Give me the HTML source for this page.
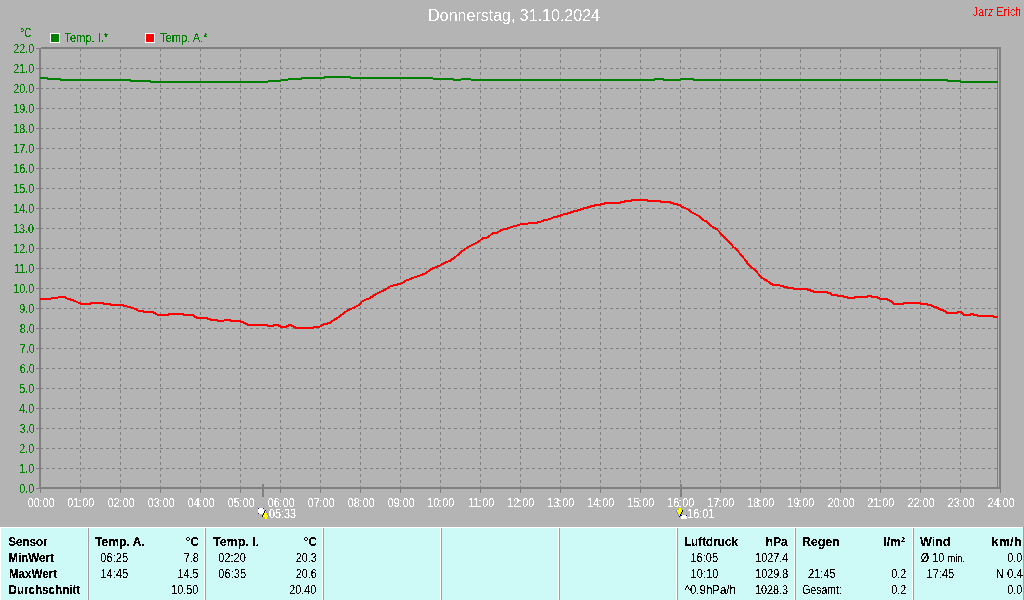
<!DOCTYPE html>
<html><head><meta charset="utf-8"><title>Donnerstag, 31.10.2024</title>
<style>
html,body{margin:0;padding:0;background:#b4b4b4;}
body{width:1024px;height:600px;overflow:hidden;font-family:"Liberation Sans",sans-serif;}
svg{display:block;position:absolute;left:0;top:0;will-change:transform}
text{font-family:"Liberation Sans",sans-serif;font-size:12px;}
.b{font-weight:bold}
.g{fill:#008000}.w{fill:#fff}.r{fill:#ff0000}.k{fill:#000}
</style></head><body>
<svg width="1024" height="600" viewBox="0 0 1024 600">
<defs><filter id="cr" x="0" y="0" width="1024" height="600" filterUnits="userSpaceOnUse" color-interpolation-filters="sRGB"><feComponentTransfer><feFuncA type="discrete" tableValues="0 0 1 1 1"/></feComponentTransfer></filter><filter id="crb" x="0" y="0" width="1024" height="600" filterUnits="userSpaceOnUse" color-interpolation-filters="sRGB"><feComponentTransfer><feFuncA type="discrete" tableValues="0 0 0 1 1 1 1 1"/></feComponentTransfer></filter><filter id="crt" x="0" y="0" width="1024" height="40" filterUnits="userSpaceOnUse" color-interpolation-filters="sRGB"><feComponentTransfer><feFuncA type="discrete" tableValues="0 1"/></feComponentTransfer></filter></defs>
<rect x="0" y="0" width="1024" height="600" fill="#b4b4b4"/>
<g shape-rendering="crispEdges" stroke="#808080" stroke-width="1" fill="none">
<line x1="40" y1="68.5" x2="999" y2="68.5" stroke-dasharray="3 3"/>
<line x1="40" y1="88.5" x2="999" y2="88.5" stroke-dasharray="3 3"/>
<line x1="40" y1="108.5" x2="999" y2="108.5" stroke-dasharray="3 3"/>
<line x1="40" y1="128.5" x2="999" y2="128.5" stroke-dasharray="3 3"/>
<line x1="40" y1="148.5" x2="999" y2="148.5" stroke-dasharray="3 3"/>
<line x1="40" y1="168.5" x2="999" y2="168.5" stroke-dasharray="3 3"/>
<line x1="40" y1="188.5" x2="999" y2="188.5" stroke-dasharray="3 3"/>
<line x1="40" y1="208.5" x2="999" y2="208.5" stroke-dasharray="3 3"/>
<line x1="40" y1="228.5" x2="999" y2="228.5" stroke-dasharray="3 3"/>
<line x1="40" y1="248.5" x2="999" y2="248.5" stroke-dasharray="3 3"/>
<line x1="40" y1="268.5" x2="999" y2="268.5" stroke-dasharray="3 3"/>
<line x1="40" y1="288.5" x2="999" y2="288.5" stroke-dasharray="3 3"/>
<line x1="40" y1="308.5" x2="999" y2="308.5" stroke-dasharray="3 3"/>
<line x1="40" y1="328.5" x2="999" y2="328.5" stroke-dasharray="3 3"/>
<line x1="40" y1="348.5" x2="999" y2="348.5" stroke-dasharray="3 3"/>
<line x1="40" y1="368.5" x2="999" y2="368.5" stroke-dasharray="3 3"/>
<line x1="40" y1="388.5" x2="999" y2="388.5" stroke-dasharray="3 3"/>
<line x1="40" y1="408.5" x2="999" y2="408.5" stroke-dasharray="3 3"/>
<line x1="40" y1="428.5" x2="999" y2="428.5" stroke-dasharray="3 3"/>
<line x1="40" y1="448.5" x2="999" y2="448.5" stroke-dasharray="3 3"/>
<line x1="40" y1="468.5" x2="999" y2="468.5" stroke-dasharray="3 3"/>
<line x1="80.5" y1="48" x2="80.5" y2="487" stroke-dasharray="3 3"/>
<line x1="120.5" y1="48" x2="120.5" y2="487" stroke-dasharray="3 3"/>
<line x1="160.5" y1="48" x2="160.5" y2="487" stroke-dasharray="3 3"/>
<line x1="200.5" y1="48" x2="200.5" y2="487" stroke-dasharray="3 3"/>
<line x1="240.5" y1="48" x2="240.5" y2="487" stroke-dasharray="3 3"/>
<line x1="280.5" y1="48" x2="280.5" y2="487" stroke-dasharray="3 3"/>
<line x1="320.5" y1="48" x2="320.5" y2="487" stroke-dasharray="3 3"/>
<line x1="360.5" y1="48" x2="360.5" y2="487" stroke-dasharray="3 3"/>
<line x1="400.5" y1="48" x2="400.5" y2="487" stroke-dasharray="3 3"/>
<line x1="440.5" y1="48" x2="440.5" y2="487" stroke-dasharray="3 3"/>
<line x1="480.5" y1="48" x2="480.5" y2="487" stroke-dasharray="3 3"/>
<line x1="520.5" y1="48" x2="520.5" y2="487" stroke-dasharray="3 3"/>
<line x1="560.5" y1="48" x2="560.5" y2="487" stroke-dasharray="3 3"/>
<line x1="600.5" y1="48" x2="600.5" y2="487" stroke-dasharray="3 3"/>
<line x1="640.5" y1="48" x2="640.5" y2="487" stroke-dasharray="3 3"/>
<line x1="680.5" y1="48" x2="680.5" y2="487" stroke-dasharray="3 3"/>
<line x1="720.5" y1="48" x2="720.5" y2="487" stroke-dasharray="3 3"/>
<line x1="760.5" y1="48" x2="760.5" y2="487" stroke-dasharray="3 3"/>
<line x1="800.5" y1="48" x2="800.5" y2="487" stroke-dasharray="3 3"/>
<line x1="840.5" y1="48" x2="840.5" y2="487" stroke-dasharray="3 3"/>
<line x1="880.5" y1="48" x2="880.5" y2="487" stroke-dasharray="3 3"/>
<line x1="920.5" y1="48" x2="920.5" y2="487" stroke-dasharray="3 3"/>
<line x1="960.5" y1="48" x2="960.5" y2="487" stroke-dasharray="3 3"/>
<line x1="36" y1="48.5" x2="39" y2="48.5"/>
<line x1="36" y1="68.5" x2="39" y2="68.5"/>
<line x1="36" y1="88.5" x2="39" y2="88.5"/>
<line x1="36" y1="108.5" x2="39" y2="108.5"/>
<line x1="36" y1="128.5" x2="39" y2="128.5"/>
<line x1="36" y1="148.5" x2="39" y2="148.5"/>
<line x1="36" y1="168.5" x2="39" y2="168.5"/>
<line x1="36" y1="188.5" x2="39" y2="188.5"/>
<line x1="36" y1="208.5" x2="39" y2="208.5"/>
<line x1="36" y1="228.5" x2="39" y2="228.5"/>
<line x1="36" y1="248.5" x2="39" y2="248.5"/>
<line x1="36" y1="268.5" x2="39" y2="268.5"/>
<line x1="36" y1="288.5" x2="39" y2="288.5"/>
<line x1="36" y1="308.5" x2="39" y2="308.5"/>
<line x1="36" y1="328.5" x2="39" y2="328.5"/>
<line x1="36" y1="348.5" x2="39" y2="348.5"/>
<line x1="36" y1="368.5" x2="39" y2="368.5"/>
<line x1="36" y1="388.5" x2="39" y2="388.5"/>
<line x1="36" y1="408.5" x2="39" y2="408.5"/>
<line x1="36" y1="428.5" x2="39" y2="428.5"/>
<line x1="36" y1="448.5" x2="39" y2="448.5"/>
<line x1="36" y1="468.5" x2="39" y2="468.5"/>
<line x1="36" y1="488.5" x2="39" y2="488.5"/>
<line x1="40.5" y1="489" x2="40.5" y2="493"/>
<line x1="80.5" y1="489" x2="80.5" y2="493"/>
<line x1="120.5" y1="489" x2="120.5" y2="493"/>
<line x1="160.5" y1="489" x2="160.5" y2="493"/>
<line x1="200.5" y1="489" x2="200.5" y2="493"/>
<line x1="240.5" y1="489" x2="240.5" y2="493"/>
<line x1="280.5" y1="489" x2="280.5" y2="493"/>
<line x1="320.5" y1="489" x2="320.5" y2="493"/>
<line x1="360.5" y1="489" x2="360.5" y2="493"/>
<line x1="400.5" y1="489" x2="400.5" y2="493"/>
<line x1="440.5" y1="489" x2="440.5" y2="493"/>
<line x1="480.5" y1="489" x2="480.5" y2="493"/>
<line x1="520.5" y1="489" x2="520.5" y2="493"/>
<line x1="560.5" y1="489" x2="560.5" y2="493"/>
<line x1="600.5" y1="489" x2="600.5" y2="493"/>
<line x1="640.5" y1="489" x2="640.5" y2="493"/>
<line x1="680.5" y1="489" x2="680.5" y2="493"/>
<line x1="720.5" y1="489" x2="720.5" y2="493"/>
<line x1="760.5" y1="489" x2="760.5" y2="493"/>
<line x1="800.5" y1="489" x2="800.5" y2="493"/>
<line x1="840.5" y1="489" x2="840.5" y2="493"/>
<line x1="880.5" y1="489" x2="880.5" y2="493"/>
<line x1="920.5" y1="489" x2="920.5" y2="493"/>
<line x1="960.5" y1="489" x2="960.5" y2="493"/>
<line x1="1000.5" y1="489" x2="1000.5" y2="493"/>
<line x1="997.5" y1="49" x2="997.5" y2="487"/>
</g>
<g shape-rendering="crispEdges" fill="#808080">
<rect x="39" y="48" width="2" height="441"/>
<rect x="41" y="47" width="960" height="2"/>
<rect x="999" y="47" width="2" height="442"/>
<rect x="39" y="487" width="962" height="2"/>
<rect x="262" y="484" width="2" height="13"/>
<rect x="680" y="484" width="2" height="13"/>
</g>
<g shape-rendering="crispEdges" fill="none" stroke-width="2" stroke-linejoin="round">
<path stroke="#008000" d="M40.00,78.00 L47.10,78.00 L48.10,79.00 L60.10,79.00 L61.10,80.00 L129.90,80.00 L130.90,81.00 L150.10,81.00 L151.10,82.00 L267.50,82.00 L268.50,81.00 L280.50,81.00 L281.50,80.00 L287.50,80.00 L288.50,79.00 L300.80,79.00 L301.80,78.00 L323.75,78.00 L324.75,77.00 L349.80,77.00 L350.80,78.00 L432.50,78.00 L433.50,79.00 L453.40,79.00 L454.40,80.00 L460.50,80.00 L461.50,79.00 L470.50,79.00 L471.50,80.00 L653.70,80.00 L654.70,79.00 L663.20,79.00 L664.20,80.00 L680.30,80.00 L681.30,79.00 L693.10,79.00 L694.10,80.00 L947.10,80.00 L948.10,81.00 L959.90,81.00 L960.90,82.00 L998.00,82.00"/>
<path stroke="#ff0000" d="M40.00,299.00 L50.50,299.00 L51.50,298.00 L57.50,298.00 L58.50,297.00 L64.90,297.00 L65.90,298.00 L66.50,298.00 L67.50,299.00 L69.90,299.00 L70.90,300.00 L73.00,300.00 L74.00,301.00 L75.50,301.00 L76.50,302.00 L77.50,302.00 L78.50,303.00 L79.90,303.00 L80.90,304.00 L89.90,304.00 L90.90,303.00 L103.00,303.00 L104.00,304.00 L109.90,304.00 L110.90,305.00 L123.00,305.00 L124.00,306.00 L126.50,306.00 L127.50,307.00 L130.50,307.00 L131.50,308.00 L133.50,308.00 L134.50,309.00 L136.10,309.00 L137.10,310.00 L137.50,310.00 L138.50,311.00 L143.00,311.00 L144.00,312.00 L153.00,312.00 L154.00,313.00 L154.90,313.00 L155.90,314.00 L156.50,314.00 L157.50,315.00 L168.25,315.00 L169.25,314.00 L183.00,314.00 L184.00,315.00 L193.00,315.00 L194.00,316.00 L194.25,316.00 L195.25,317.00 L196.00,317.00 L197.00,318.00 L207.00,318.00 L208.00,319.00 L210.10,319.00 L211.10,320.00 L217.00,320.00 L218.00,321.00 L223.50,321.00 L224.50,320.00 L230.10,320.00 L231.10,321.00 L240.10,321.00 L241.10,322.00 L243.25,322.00 L244.25,323.00 L245.10,323.00 L246.10,324.00 L247.00,324.00 L248.00,325.00 L267.00,325.00 L268.00,326.00 L273.00,326.00 L274.00,325.00 L278.25,325.00 L279.25,326.00 L280.10,326.00 L281.10,327.00 L286.40,327.00 L287.40,326.00 L287.60,326.00 L288.60,325.00 L291.40,325.00 L292.40,326.00 L293.25,326.00 L294.25,327.00 L295.10,327.00 L296.10,328.00 L313.25,328.00 L314.25,327.00 L319.50,327.00 L320.50,326.00 L321.40,326.00 L322.40,325.00 L323.25,325.00 L324.25,324.00 L327.00,324.00 L328.00,323.00 L330.10,323.00 L330.60,322.00 L333.75,320.00 L337.50,318.00 L341.25,315.00 L345.00,312.25 L348.00,310.00 L351.25,309.00 L355.00,307.25 L358.75,305.00 L362.50,301.00 L365.00,300.00 L370.00,298.00 L373.75,295.50 L378.75,292.50 L383.75,290.50 L388.75,287.25 L391.25,286.00 L397.50,284.50 L402.50,283.00 L405.00,281.00 L410.00,279.10 L415.00,277.25 L420.00,275.40 L425.00,273.50 L428.75,271.00 L431.25,269.10 L436.25,267.00 L440.00,265.40 L443.75,263.25 L450.00,260.75 L455.00,257.25 L458.75,254.10 L461.25,251.60 L465.00,249.10 L468.00,247.00 L471.25,245.40 L476.25,242.90 L480.00,240.40 L482.50,238.50 L486.25,238.00 L490.00,235.40 L492.50,233.50 L496.90,232.90 L500.00,230.75 L503.75,229.10 L507.50,228.50 L512.50,226.60 L517.50,225.40 L521.25,224.00 L521.75,224.00 L527.50,224.00 L528.50,223.00 L537.00,223.00 L538.00,222.00 L540.50,222.00 L541.50,221.00 L543.25,221.00 L544.25,220.00 L547.50,220.00 L548.50,219.00 L550.50,219.00 L551.50,218.00 L552.50,218.00 L553.50,217.00 L557.00,217.00 L558.00,216.00 L560.10,216.00 L561.10,215.00 L562.50,215.00 L563.50,214.00 L567.00,214.00 L568.00,213.00 L570.10,213.00 L571.10,212.00 L573.25,212.00 L574.25,211.00 L577.00,211.00 L578.00,210.00 L580.10,210.00 L581.10,209.00 L583.25,209.00 L584.25,208.00 L587.00,208.00 L588.00,207.00 L590.10,207.00 L591.10,206.00 L593.90,206.00 L594.90,205.00 L600.10,205.00 L601.10,204.00 L603.90,204.00 L604.90,203.00 L620.10,203.00 L621.10,202.00 L623.90,202.00 L624.90,201.00 L630.75,201.00 L631.75,200.00 L647.00,200.00 L648.00,201.00 L660.10,201.00 L661.10,202.00 L670.10,202.00 L671.10,203.00 L673.25,203.00 L674.25,204.00 L677.00,204.00 L678.00,205.00 L680.10,205.00 L681.90,206.60 L685.30,208.00 L688.75,210.00 L691.25,212.00 L694.40,213.75 L698.10,215.50 L701.25,218.00 L703.75,220.40 L706.60,221.60 L709.70,224.75 L713.10,227.25 L716.60,229.00 L719.70,232.25 L723.10,236.00 L726.90,239.75 L730.60,243.50 L733.20,247.00 L736.30,249.10 L738.80,252.25 L741.90,256.00 L745.60,260.40 L748.10,264.10 L751.80,267.90 L754.90,269.75 L758.00,273.50 L761.60,277.90 L764.00,279.10 L767.50,281.00 L770.60,283.50 L773.10,285.00 L773.60,285.00 L779.50,285.00 L780.50,286.00 L783.25,286.00 L784.25,287.00 L787.00,287.00 L788.00,288.00 L793.25,288.00 L794.25,289.00 L807.00,289.00 L808.00,290.00 L810.10,290.00 L811.10,291.00 L813.25,291.00 L814.25,292.00 L827.00,292.00 L828.00,293.00 L830.10,293.00 L831.10,294.00 L831.40,294.00 L832.40,295.00 L837.00,295.00 L838.00,296.00 L843.25,296.00 L844.25,297.00 L847.00,297.00 L848.00,298.00 L853.90,298.00 L854.90,297.00 L867.00,297.00 L868.00,296.00 L871.40,296.00 L872.40,297.00 L877.00,297.00 L878.00,298.00 L878.90,298.00 L879.90,299.00 L887.00,299.00 L888.00,300.00 L888.90,300.00 L889.90,301.00 L890.75,301.00 L891.75,302.00 L892.60,302.00 L893.60,304.00 L903.25,304.00 L904.25,303.00 L920.10,303.00 L921.10,304.00 L927.00,304.00 L928.00,305.00 L930.75,305.00 L931.75,306.00 L933.25,306.00 L934.25,307.00 L935.75,307.00 L936.75,308.00 L937.60,308.00 L938.60,309.00 L940.10,309.00 L941.10,310.00 L943.25,310.00 L944.25,311.00 L945.10,311.00 L946.10,312.00 L946.40,312.00 L947.40,313.00 L957.00,313.00 L958.00,312.00 L960.75,312.00 L961.75,313.00 L962.00,313.00 L963.00,314.00 L963.25,314.00 L964.25,315.00 L970.10,315.00 L971.10,314.00 L973.25,314.00 L974.25,315.00 L976.70,315.00 L977.70,316.00 L993.20,316.00 L994.20,317.00 L998.00,317.00"/>
</g>
<g shape-rendering="crispEdges">
<rect x="50" y="33" width="10" height="10" fill="#fff"/><rect x="51" y="34" width="8" height="8" fill="#008000"/>
<rect x="145" y="33" width="10" height="10" fill="#fff"/><rect x="146" y="34" width="8" height="8" fill="#ff0000"/>
</g>
<g shape-rendering="crispEdges">
<rect x="258" y="508" width="1" height="1" fill="#10108c"/>
<rect x="259" y="508" width="4" height="1" fill="#ffffff"/>
<rect x="263" y="508" width="1" height="1" fill="#10108c"/>
<rect x="258" y="509" width="6" height="1" fill="#ffffff"/>
<rect x="258" y="510" width="6" height="1" fill="#ffffff"/>
<rect x="265" y="510" width="1" height="1" fill="#000000"/>
<rect x="258" y="511" width="6" height="1" fill="#ffffff"/>
<rect x="264" y="511" width="1" height="1" fill="#000000"/>
<rect x="265" y="511" width="1" height="1" fill="#ffff00"/>
<rect x="266" y="511" width="1" height="1" fill="#8088e0"/>
<rect x="258" y="512" width="6" height="1" fill="#ffffff"/>
<rect x="264" y="512" width="1" height="1" fill="#000000"/>
<rect x="265" y="512" width="1" height="1" fill="#ffff00"/>
<rect x="266" y="512" width="1" height="1" fill="#8088e0"/>
<rect x="258" y="513" width="1" height="1" fill="#10108c"/>
<rect x="259" y="513" width="4" height="1" fill="#ffffff"/>
<rect x="263" y="513" width="1" height="1" fill="#000000"/>
<rect x="264" y="513" width="3" height="1" fill="#ffff00"/>
<rect x="267" y="513" width="1" height="1" fill="#8088e0"/>
<rect x="263" y="514" width="1" height="1" fill="#000000"/>
<rect x="264" y="514" width="3" height="1" fill="#ffff00"/>
<rect x="267" y="514" width="1" height="1" fill="#8088e0"/>
<rect x="262" y="515" width="1" height="1" fill="#000000"/>
<rect x="263" y="515" width="5" height="1" fill="#ffff00"/>
<rect x="268" y="515" width="1" height="1" fill="#8088e0"/>
<rect x="262" y="516" width="1" height="1" fill="#000000"/>
<rect x="263" y="516" width="5" height="1" fill="#ffff00"/>
<rect x="268" y="516" width="1" height="1" fill="#8088e0"/>
<rect x="264" y="517" width="1" height="1" fill="#c8c800"/>
<rect x="265" y="517" width="2" height="1" fill="#ffff00"/>
<rect x="264" y="518" width="1" height="1" fill="#c8c800"/>
<rect x="265" y="518" width="2" height="1" fill="#ffff00"/>
</g>
<g shape-rendering="crispEdges">
<rect x="678" y="508" width="1" height="1" fill="#c8c800"/>
<rect x="679" y="508" width="2" height="1" fill="#ffff00"/>
<rect x="678" y="509" width="1" height="1" fill="#c8c800"/>
<rect x="679" y="509" width="2" height="1" fill="#ffff00"/>
<rect x="676" y="510" width="1" height="1" fill="#8088e0"/>
<rect x="677" y="510" width="5" height="1" fill="#ffff00"/>
<rect x="682" y="510" width="1" height="1" fill="#000000"/>
<rect x="676" y="511" width="1" height="1" fill="#8088e0"/>
<rect x="677" y="511" width="5" height="1" fill="#ffff00"/>
<rect x="682" y="511" width="1" height="1" fill="#000000"/>
<rect x="677" y="512" width="1" height="1" fill="#8088e0"/>
<rect x="678" y="512" width="3" height="1" fill="#ffff00"/>
<rect x="681" y="512" width="1" height="1" fill="#000000"/>
<rect x="677" y="513" width="1" height="1" fill="#8088e0"/>
<rect x="678" y="513" width="3" height="1" fill="#ffff00"/>
<rect x="681" y="513" width="1" height="1" fill="#000000"/>
<rect x="678" y="514" width="1" height="1" fill="#8088e0"/>
<rect x="679" y="514" width="1" height="1" fill="#ffff00"/>
<rect x="680" y="514" width="1" height="1" fill="#000000"/>
<rect x="678" y="515" width="1" height="1" fill="#8088e0"/>
<rect x="679" y="515" width="1" height="1" fill="#ffff00"/>
<rect x="680" y="515" width="1" height="1" fill="#000000"/>
<rect x="681" y="515" width="1" height="1" fill="#10108c"/>
<rect x="682" y="515" width="4" height="1" fill="#ffffff"/>
<rect x="686" y="515" width="1" height="1" fill="#10108c"/>
<rect x="679" y="516" width="1" height="1" fill="#000000"/>
<rect x="681" y="516" width="6" height="1" fill="#ffffff"/>
<rect x="681" y="517" width="6" height="1" fill="#ffffff"/>
<rect x="681" y="518" width="6" height="1" fill="#ffffff"/>
</g>
<g shape-rendering="crispEdges">
<rect x="0" y="527" width="1024" height="73" fill="#cdfaf7"/>
<rect x="0" y="527" width="1024" height="1" fill="#fff"/>
<rect x="0" y="527" width="1" height="73" fill="#fff"/>
<rect x="1023" y="527" width="1" height="73" fill="#a0a0a0"/>
<rect x="87" y="528" width="1" height="72" fill="#fff"/>
<rect x="88" y="528" width="1" height="72" fill="#a0a0a0"/>
<rect x="204" y="528" width="1" height="72" fill="#fff"/>
<rect x="205" y="528" width="1" height="72" fill="#a0a0a0"/>
<rect x="322" y="528" width="1" height="72" fill="#fff"/>
<rect x="323" y="528" width="1" height="72" fill="#a0a0a0"/>
<rect x="440" y="528" width="1" height="72" fill="#fff"/>
<rect x="441" y="528" width="1" height="72" fill="#a0a0a0"/>
<rect x="558" y="528" width="1" height="72" fill="#fff"/>
<rect x="559" y="528" width="1" height="72" fill="#a0a0a0"/>
<rect x="676" y="528" width="1" height="72" fill="#fff"/>
<rect x="677" y="528" width="1" height="72" fill="#a0a0a0"/>
<rect x="794" y="528" width="1" height="72" fill="#fff"/>
<rect x="795" y="528" width="1" height="72" fill="#a0a0a0"/>
<rect x="912" y="528" width="1" height="72" fill="#fff"/>
<rect x="913" y="528" width="1" height="72" fill="#a0a0a0"/>
</g>
<g filter="url(#cr)">
<text class="g" transform="translate(64.60,42.00) scale(0.920,1)" text-anchor="start">Temp. I.*</text>
<text class="g" transform="translate(159.90,42.00) scale(0.930,1)" text-anchor="start">Temp. A.*</text>
<text class="g" transform="translate(19.90,37.00) scale(0.900,1)" text-anchor="start">°C</text>
<text class="g" transform="translate(34.30,52.50) scale(0.900,1)" text-anchor="end">22.0</text>
<text class="g" transform="translate(34.30,72.50) scale(0.900,1)" text-anchor="end">21.0</text>
<text class="g" transform="translate(34.30,92.50) scale(0.900,1)" text-anchor="end">20.0</text>
<text class="g" transform="translate(34.30,112.50) scale(0.900,1)" text-anchor="end">19.0</text>
<text class="g" transform="translate(34.30,132.50) scale(0.900,1)" text-anchor="end">18.0</text>
<text class="g" transform="translate(34.30,152.50) scale(0.900,1)" text-anchor="end">17.0</text>
<text class="g" transform="translate(34.30,172.50) scale(0.900,1)" text-anchor="end">16.0</text>
<text class="g" transform="translate(34.30,192.50) scale(0.900,1)" text-anchor="end">15.0</text>
<text class="g" transform="translate(34.30,212.50) scale(0.900,1)" text-anchor="end">14.0</text>
<text class="g" transform="translate(34.10,232.50) scale(0.900,1)" text-anchor="end">13.0</text>
<text class="g" transform="translate(34.30,252.50) scale(0.900,1)" text-anchor="end">12.0</text>
<text class="g" transform="translate(34.30,272.50) scale(0.900,1)" text-anchor="end">11.0</text>
<text class="g" transform="translate(34.30,292.50) scale(0.900,1)" text-anchor="end">10.0</text>
<text class="g" transform="translate(34.30,312.50) scale(0.900,1)" text-anchor="end">9.0</text>
<text class="g" transform="translate(34.70,332.50) scale(0.900,1)" text-anchor="end">8.0</text>
<text class="g" transform="translate(34.70,352.50) scale(0.900,1)" text-anchor="end">7.0</text>
<text class="g" transform="translate(34.70,372.50) scale(0.900,1)" text-anchor="end">6.0</text>
<text class="g" transform="translate(34.30,392.50) scale(0.900,1)" text-anchor="end">5.0</text>
<text class="g" transform="translate(34.30,412.50) scale(0.900,1)" text-anchor="end">4.0</text>
<text class="g" transform="translate(34.70,432.50) scale(0.900,1)" text-anchor="end">3.0</text>
<text class="g" transform="translate(34.30,452.50) scale(0.900,1)" text-anchor="end">2.0</text>
<text class="g" transform="translate(34.30,472.50) scale(0.900,1)" text-anchor="end">1.0</text>
<text class="g" transform="translate(34.30,492.50) scale(0.900,1)" text-anchor="end">0.0</text>
<text class="w" transform="translate(41.20,507.00) scale(0.900,1)" text-anchor="middle">00<tspan dx="-0.8">:</tspan><tspan dx="0.8">00</tspan></text>
<text class="w" transform="translate(80.80,507.00) scale(0.900,1)" text-anchor="middle">01<tspan dx="-0.8">:</tspan><tspan dx="0.8">00</tspan></text>
<text class="w" transform="translate(121.20,507.00) scale(0.900,1)" text-anchor="middle">02<tspan dx="-0.8">:</tspan><tspan dx="0.8">00</tspan></text>
<text class="w" transform="translate(161.20,507.00) scale(0.900,1)" text-anchor="middle">03<tspan dx="-0.8">:</tspan><tspan dx="0.8">00</tspan></text>
<text class="w" transform="translate(201.20,507.00) scale(0.900,1)" text-anchor="middle">04<tspan dx="-0.8">:</tspan><tspan dx="0.8">00</tspan></text>
<text class="w" transform="translate(241.20,507.00) scale(0.900,1)" text-anchor="middle">05<tspan dx="-0.8">:</tspan><tspan dx="0.8">00</tspan></text>
<text class="w" transform="translate(281.20,507.00) scale(0.900,1)" text-anchor="middle">06<tspan dx="-0.8">:</tspan><tspan dx="0.8">00</tspan></text>
<text class="w" transform="translate(321.20,507.00) scale(0.900,1)" text-anchor="middle">07<tspan dx="-0.8">:</tspan><tspan dx="0.8">00</tspan></text>
<text class="w" transform="translate(361.20,507.00) scale(0.900,1)" text-anchor="middle">08<tspan dx="-0.8">:</tspan><tspan dx="0.8">00</tspan></text>
<text class="w" transform="translate(401.20,507.00) scale(0.900,1)" text-anchor="middle">09<tspan dx="-0.8">:</tspan><tspan dx="0.8">00</tspan></text>
<text class="w" transform="translate(440.80,507.00) scale(0.900,1)" text-anchor="middle">10<tspan dx="-0.8">:</tspan><tspan dx="0.8">00</tspan></text>
<text class="w" transform="translate(481.10,507.00) scale(0.900,1)" text-anchor="middle">11<tspan dx="-0.8">:</tspan><tspan dx="0.8">00</tspan></text>
<text class="w" transform="translate(520.80,507.00) scale(0.900,1)" text-anchor="middle">12<tspan dx="-0.8">:</tspan><tspan dx="0.8">00</tspan></text>
<text class="w" transform="translate(560.80,507.00) scale(0.900,1)" text-anchor="middle">13<tspan dx="-0.8">:</tspan><tspan dx="0.8">00</tspan></text>
<text class="w" transform="translate(600.80,507.00) scale(0.900,1)" text-anchor="middle">14<tspan dx="-0.8">:</tspan><tspan dx="0.8">00</tspan></text>
<text class="w" transform="translate(640.80,507.00) scale(0.900,1)" text-anchor="middle">15<tspan dx="-0.8">:</tspan><tspan dx="0.8">00</tspan></text>
<text class="w" transform="translate(680.80,507.00) scale(0.900,1)" text-anchor="middle">16<tspan dx="-0.8">:</tspan><tspan dx="0.8">00</tspan></text>
<text class="w" transform="translate(720.80,507.00) scale(0.900,1)" text-anchor="middle">17<tspan dx="-0.8">:</tspan><tspan dx="0.8">00</tspan></text>
<text class="w" transform="translate(760.80,507.00) scale(0.900,1)" text-anchor="middle">18<tspan dx="-0.8">:</tspan><tspan dx="0.8">00</tspan></text>
<text class="w" transform="translate(800.80,507.00) scale(0.900,1)" text-anchor="middle">19<tspan dx="-0.8">:</tspan><tspan dx="0.8">00</tspan></text>
<text class="w" transform="translate(841.20,507.00) scale(0.900,1)" text-anchor="middle">20<tspan dx="-0.8">:</tspan><tspan dx="0.8">00</tspan></text>
<text class="w" transform="translate(880.80,507.00) scale(0.900,1)" text-anchor="middle">21<tspan dx="-0.8">:</tspan><tspan dx="0.8">00</tspan></text>
<text class="w" transform="translate(921.20,507.00) scale(0.900,1)" text-anchor="middle">22<tspan dx="-0.8">:</tspan><tspan dx="0.8">00</tspan></text>
<text class="w" transform="translate(961.20,507.00) scale(0.900,1)" text-anchor="middle">23<tspan dx="-0.8">:</tspan><tspan dx="0.8">00</tspan></text>
<text class="w" transform="translate(1001.20,507.00) scale(0.900,1)" text-anchor="middle">24<tspan dx="-0.8">:</tspan><tspan dx="0.8">00</tspan></text>
<text class="w" transform="translate(269.10,518.00) scale(0.900,1)" text-anchor="start">05:33</text>
<text class="w" transform="translate(687.20,518.00) scale(0.900,1)" text-anchor="start">16:01</text>
<text class="k" transform="translate(100.30,562.00) scale(0.925,1)" text-anchor="start">06:25</text>
<text class="k" transform="translate(198.70,562.00) scale(0.900,1)" text-anchor="end">7.8</text>
<text class="k" transform="translate(100.40,578.00) scale(0.930,1)" text-anchor="start">14:45</text>
<text class="k" transform="translate(198.50,578.00) scale(0.900,1)" text-anchor="end">14.5</text>
<text class="k" transform="translate(198.30,594.00) scale(0.900,1)" text-anchor="end">10.50</text>
<text class="k" transform="translate(218.20,562.00) scale(0.925,1)" text-anchor="start">02:20</text>
<text class="k" transform="translate(316.70,562.00) scale(0.900,1)" text-anchor="end">20.3</text>
<text class="k" transform="translate(218.30,578.00) scale(0.925,1)" text-anchor="start">06:35</text>
<text class="k" transform="translate(316.70,578.00) scale(0.900,1)" text-anchor="end">20.6</text>
<text class="k" transform="translate(316.30,594.00) scale(0.900,1)" text-anchor="end">20.40</text>
<text class="k" transform="translate(690.40,562.00) scale(0.925,1)" text-anchor="start">16:05</text>
<text class="k" transform="translate(788.30,562.00) scale(0.900,1)" text-anchor="end">1027.4</text>
<text class="k" transform="translate(690.60,578.00) scale(0.925,1)" text-anchor="start">10:10</text>
<text class="k" transform="translate(788.30,578.00) scale(0.900,1)" text-anchor="end">1029.8</text>
<text class="k" transform="translate(684.50,594.00) scale(0.960,1)" text-anchor="start">^0.9hPa/h</text>
<text class="k" transform="translate(788.10,594.00) scale(0.900,1)" text-anchor="end">1028.3</text>
<text class="k" transform="translate(808.00,578.00) scale(0.925,1)" text-anchor="start">21:45</text>
<text class="k" transform="translate(906.30,578.00) scale(0.900,1)" text-anchor="end">0.2</text>
<text class="k" transform="translate(802.30,594.00) scale(0.870,1)" text-anchor="start">Gesamt:</text>
<text class="k" transform="translate(906.30,594.00) scale(0.900,1)" text-anchor="end">0.2</text>
<text class="k" transform="translate(920.80,562.00) scale(0.900,1)" text-anchor="start">Ø 10 <tspan font-size="10.6">min.</tspan></text>
<text class="k" transform="translate(1022.30,562.00) scale(0.900,1)" text-anchor="end">0.0</text>
<text class="k" transform="translate(926.50,578.00) scale(0.925,1)" text-anchor="start">17:45</text>
<text class="k" transform="translate(1022.90,578.00) scale(0.950,1)" text-anchor="end">N 0.4</text>
<text class="k" transform="translate(1022.30,594.00) scale(0.900,1)" text-anchor="end">0.0</text>
</g>
<g filter="url(#crt)">
<text class="w" transform="translate(514.10,20.50) scale(1.000,1)" text-anchor="middle" style="font-size:16px">Donnerstag, 31.10.2024</text>
<text class="r" transform="translate(1021.30,16.00) scale(0.860,1)" text-anchor="end" letter-spacing="0.3">Jarz Erich</text>
</g>
<g filter="url(#crb)">
<text class="k b" transform="translate(8.20,546.00) scale(0.970,1)" text-anchor="start">Sensor</text>
<text class="k b" transform="translate(8.20,562.00) scale(0.970,1)" text-anchor="start">MinWert</text>
<text class="k b" transform="translate(8.90,578.00) scale(0.970,1)" text-anchor="start">MaxWert</text>
<text class="k b" transform="translate(8.50,594.00) scale(0.970,1)" text-anchor="start">Durchschnitt</text>
<text class="k b" transform="translate(95.00,546.00) scale(1.010,1)" text-anchor="start">Temp. A.</text>
<text class="k b" transform="translate(199.00,546.00) scale(0.980,1)" text-anchor="end">°C</text>
<text class="k b" transform="translate(213.00,546.00) scale(1.040,1)" text-anchor="start">Temp. I.</text>
<text class="k b" transform="translate(317.00,546.00) scale(0.980,1)" text-anchor="end">°C</text>
<text class="k b" transform="translate(683.90,546.00) scale(0.980,1)" text-anchor="start">Luftdruck</text>
<text class="k b" transform="translate(787.80,546.00) scale(1.000,1)" text-anchor="end">hPa</text>
<text class="k b" transform="translate(802.00,546.00) scale(1.030,1)" text-anchor="start">Regen</text>
<text class="k b" transform="translate(905.00,546.00) scale(1.020,1)" text-anchor="end">l/m²</text>
<text class="k b" transform="translate(920.00,546.00) scale(1.040,1)" text-anchor="start">Wind</text>
<text class="k b" transform="translate(1021.50,546.00) scale(1.070,1)" text-anchor="end">km/h</text>
</g>
</svg>
</body></html>
